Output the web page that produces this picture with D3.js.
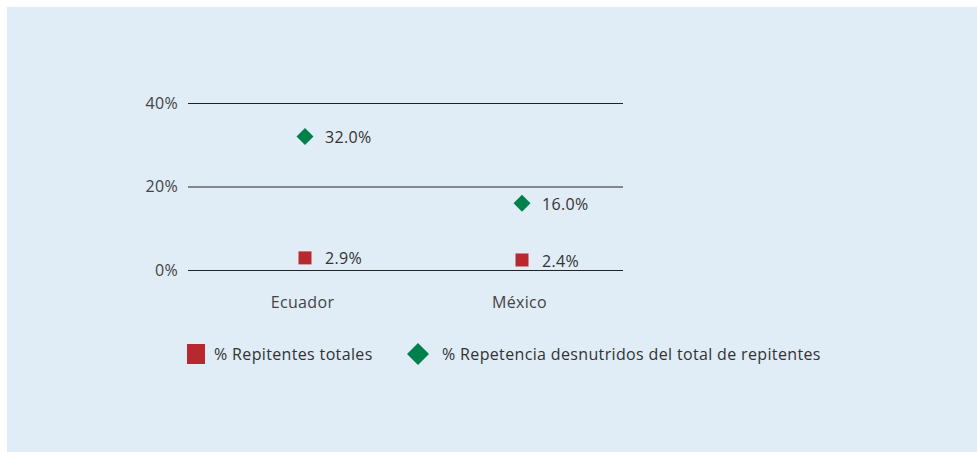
<!DOCTYPE html>
<html>
<head>
<meta charset="utf-8">
<script src="https://cdn.jsdelivr.net/npm/d3@7"></script>
<style>
  body { margin: 0; background: #fff; }
  text { font-family: "Open Sans", Lato, sans-serif; font-size: 16px; letter-spacing: 0.35px; }
</style>
</head>
<body>
<div id="chart"></div>
<script>
var categories = ["Ecuador", "México"];
var repitentesTotales = [2.9, 2.4];
var repetenciaDesnutridos = [32.0, 16.0];
var yTicks = [0, 20, 40];
var seriesNames = ["% Repitentes totales", "% Repetencia desnutridos del total de repitentes"];

var W = 977, H = 452;
var m = {left: 188, right: 623, top: 103, bottom: 270};

var svg = d3.select("#chart").append("svg")
    .attr("width", W)
    .attr("height", H);

svg.append("rect")
    .attr("x", 7).attr("y", 7)
    .attr("width", W - 7).attr("height", H - 7)
    .attr("fill", "#e0ecf6");

var y = d3.scaleLinear().domain([0, 40]).range([m.bottom, m.top]);
// categories sit a bit right of the band centres
var x = d3.scalePoint().domain(categories).range([m.left + 117, m.right - 101]);

// gridlines + tick labels
var yAxis = d3.axisLeft(y)
    .tickValues(yTicks)
    .tickSize(-(m.right - m.left))
    .tickPadding(10)
    .tickFormat(function(d){ return d + "%"; });

var gy = svg.append("g")
    .attr("transform", "translate(" + m.left + ",0)")
    .call(yAxis);
gy.select(".domain").remove();
gy.selectAll(".tick line").attr("stroke", "#222").attr("stroke-width", 1);
gy.selectAll(".tick text")
    .attr("fill", "#444")
    .style("font-size", "16px");

// category labels
var xAxis = d3.axisBottom(x).tickSize(0).tickPadding(27);
var gx = svg.append("g")
    .attr("transform", "translate(0," + m.bottom + ")")
    .call(xAxis);
gx.select(".domain").remove();
gx.selectAll(".tick text")
    .attr("fill", "#444")
    .attr("dx", "-3")
    .style("font-size", "16px");

var red = "#b8282f", green = "#00804a";
var sq = 13, dia = 17;

// % Repitentes totales
svg.selectAll(".sq").data(repitentesTotales).enter()
  .append("rect")
    .attr("class", "sq")
    .attr("x", function(d, i){ return x(categories[i]) - sq / 2; })
    .attr("y", function(d){ return y(d) - sq / 2; })
    .attr("width", sq).attr("height", sq)
    .attr("fill", red);

// % Repetencia desnutridos
svg.selectAll(".dia").data(repetenciaDesnutridos).enter()
  .append("path")
    .attr("class", "dia")
    .attr("d", "M0," + (-dia/2) + "L" + (dia/2) + ",0L0," + (dia/2) + "L" + (-dia/2) + ",0Z")
    .attr("transform", function(d, i){ return "translate(" + x(categories[i]) + "," + y(d) + ")"; })
    .attr("fill", green);

// value labels
var labels = [];
categories.forEach(function(c, i){
  labels.push({c: c, v: repitentesTotales[i]});
  labels.push({c: c, v: repetenciaDesnutridos[i]});
});
svg.selectAll(".lbl").data(labels).enter()
  .append("text")
    .attr("class", "lbl")
    .attr("x", function(d){ return x(d.c) + 20; })
    .attr("y", function(d){ return y(d.v) + 1; })
    .attr("dy", "0.35em")
    .attr("fill", "#333")
    .text(function(d){ return d.v.toFixed(1) + "%"; });

// legend
var lg = svg.append("g").attr("transform", "translate(187,354)");
lg.append("rect")
    .attr("x", 0).attr("y", -10)
    .attr("width", 18).attr("height", 20)
    .attr("fill", red);
lg.append("text")
    .attr("x", 27).attr("dy", "0.35em")
    .attr("fill", "#333")
    .text(seriesNames[0]);
lg.append("path")
    .attr("d", "M231,-11L242,0L231,11L220,0Z")
    .attr("fill", green);
lg.append("text")
    .attr("x", 255).attr("dy", "0.35em")
    .attr("fill", "#333")
    .text(seriesNames[1]);
</script>
</body>
</html>
